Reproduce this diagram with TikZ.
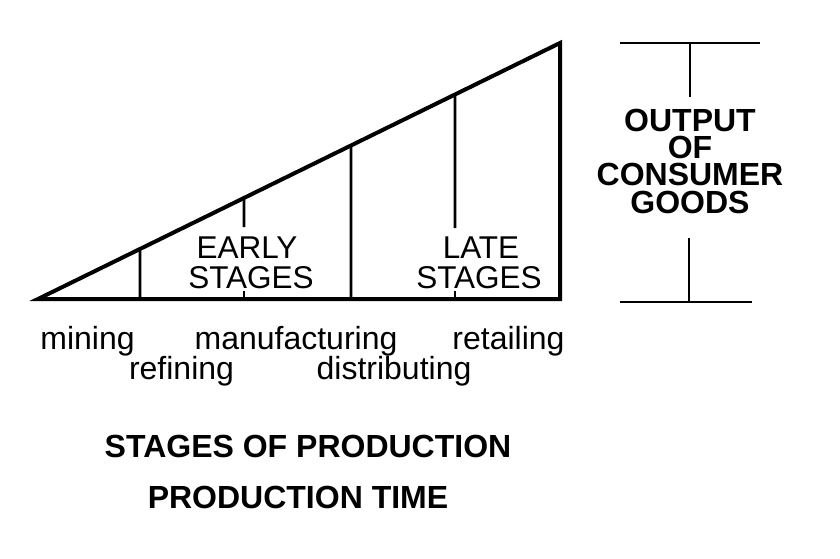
\documentclass[tikz,border=0pt]{standalone}
\usepackage{fontspec}
\setmainfont{Liberation Sans}
\usetikzlibrary{calc}
\begin{document}
\begin{tikzpicture}[x=1pt,y=-1pt,
  frame/.style={line width=4pt,line join=miter},
  divider/.style={line width=2.8pt},
  bracket/.style={line width=1.4pt},
  stagelabel/.style={anchor=base,inner sep=0pt,font=\fontsize{31.5}{31.5}\selectfont},
  proclabel/.style={anchor=base,inner sep=0pt,font=\fontsize{32}{32}\selectfont},
  boldlabel/.style={anchor=base,inner sep=0pt,font=\fontsize{32}{32}\selectfont\bfseries},
  stacklabel/.style={anchor=base,inner sep=0pt,align=center,font=\fontsize{32}{27.3}\selectfont\bfseries}]
\useasboundingbox (0,0) rectangle (840,559);
% triangle
\coordinate (L) at (38,299);
\coordinate (T) at (560,43);
\coordinate (R) at (560,299);
\draw[frame] (L) -- (T) -- (R) -- cycle;
% dividers
\coordinate (d1t) at ($(L)!{(140-38)/522}!(T)$);
\coordinate (d1b) at (140,299);
\coordinate (d2t) at ($(L)!{(244-38)/522}!(T)$);
\coordinate (d2m) at (244,227);
\coordinate (d2s) at (244,291);
\coordinate (d2b) at (244,299);
\coordinate (d3t) at ($(L)!{(351-38)/522}!(T)$);
\coordinate (d3b) at (351,299);
\coordinate (d4t) at ($(L)!{(455-38)/522}!(T)$);
\coordinate (d4m) at (455,228);
\coordinate (d4s) at (455,291);
\coordinate (d4b) at (455,299);
\draw[divider] (d1t) -- (d1b);
\draw[divider] (d2t) -- (d2m);
\draw[divider] (d2s) -- (d2b);
\draw[divider] (d3t) -- (d3b);
\draw[divider] (d4t) -- (d4m);
\draw[divider] (d4s) -- (d4b);
% stage labels
\node[stagelabel] (early1) at (247,258) {EARLY};
\node[stagelabel] (early2) at (251,288) {STAGES};
\node[stagelabel] (late1) at (481,258) {LATE};
\node[stagelabel] (late2) at (479,288) {STAGES};
% process labels
\node[proclabel] (mining) at (87.5,349) {mining};
\node[proclabel] (manuf) at (296,349) {manufacturing};
\node[proclabel] (retail) at (508.5,349) {retailing};
\node[proclabel] (refin) at (181.5,379) {refining};
\node[proclabel] (distr) at (394,379) {distributing};
% bottom titles
\node[boldlabel] (stages) at (308,457) {STAGES OF PRODUCTION};
\node[boldlabel] (ptime) at (298,508) {PRODUCTION TIME};
% right bracket
\coordinate (bt1) at (620,43);
\coordinate (bt2) at (760,43);
\coordinate (btm) at (690,43);
\coordinate (btv) at (690,97);
\coordinate (bb1) at (620,302);
\coordinate (bb2) at (752,302);
\coordinate (bbm) at (689,302);
\coordinate (bbv) at (689,238);
\draw[bracket] (bt1) -- (bt2);
\draw[bracket] (btm) -- (btv);
\draw[bracket] (bb1) -- (bb2);
\draw[bracket] (bbm) -- (bbv);
\node[stacklabel] (output) at (690,213) {OUTPUT\\OF\\CONSUMER\\GOODS};
\end{tikzpicture}
\end{document}
